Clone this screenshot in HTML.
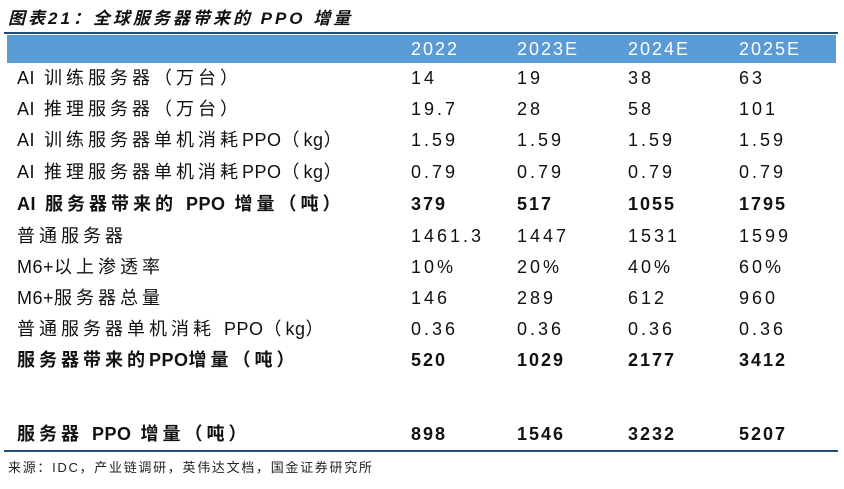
<!DOCTYPE html>
<html><head><meta charset="utf-8"><style>
body{margin:0;width:844px;height:489px;background:#fff;position:relative;font-family:"Liberation Sans","Noto Sans CJK SC",sans-serif;color:#111;overflow:hidden}
.abs{position:absolute}
.title{left:8px;top:4px;font-size:17px;font-weight:bold;font-style:italic;letter-spacing:3px}
.rule{left:4px;width:834px;height:2px;background:#1f4e79}
.hdr{left:7px;top:35px;width:829px;height:28px;background:#5b9bd5}
.row{left:0;width:844px;height:31px;font-size:18px;line-height:31px}
.row span{position:absolute;white-space:nowrap;letter-spacing:3px}
.row .l{left:17px;letter-spacing:4px}
.row .l .lat{position:static;letter-spacing:0.5px}
.b span{letter-spacing:2px}
.b{font-weight:bold}
.row .h{color:#fff;font-size:18px;line-height:28px;letter-spacing:2px}
.src{left:8px;top:457px;font-size:13px;color:#222;letter-spacing:1.7px}
</style></head><body>
<div class="abs title">图表21：全球服务器带来的 PPO 增量</div>
<div class="abs rule" style="top:32px"></div>
<div class="abs hdr"></div>
<div id="rows"></div>
<div class="abs rule" style="top:450px"></div>
<div class="abs src">来源：IDC，产业链调研，英伟达文档，国金证券研究所</div>
<script>
const years=["2022","2023E","2024E","2025E"];
const labels=["AI 训练服务器（万台）","AI 推理服务器（万台）","AI 训练服务器单机消耗PPO（kg）","AI 推理服务器单机消耗PPO（kg）","AI 服务器带来的 PPO 增量（吨）","普通服务器","M6+以上渗透率","M6+服务器总量","普通服务器单机消耗 PPO（kg）","服务器带来的PPO增量（吨）","服务器 PPO 增量（吨）"];
const values=[["14","19","38","63"],["19.7","28","58","101"],["1.59","1.59","1.59","1.59"],["0.79","0.79","0.79","0.79"],["379","517","1055","1795"],["1461.3","1447","1531","1599"],["10%","20%","40%","60%"],["146","289","612","960"],["0.36","0.36","0.36","0.36"],["520","1029","2177","3412"],["898","1546","3232","5207"]];
const bold=[4,9,10];
const colX=[411,517,628,739];
const tops=[63,94,125,157,189,221,252,283,314,345,419];
const root=document.getElementById('rows');
const hd=document.createElement('div');hd.className='abs row';hd.style.top='35px';


years.forEach((y,i)=>{const s=document.createElement('span');s.className='h';s.style.left=colX[i]+'px';s.textContent=y;


hd.appendChild(s);});
root.appendChild(hd);
labels.forEach((lab,r)=>{const d=document.createElement('div');d.className='abs row'+(bold.includes(r)?' b':'');d.style.top=tops[r]+'px';


const l=document.createElement('span');l.className='l';
l.innerHTML=lab.replace(/[A-Za-z0-9+]+(?= )?/g,m=>'<span class="lat">'+m+'</span>');


d.appendChild(l);
values[r].forEach((v,i)=>{const s=document.createElement('span');s.style.left=colX[i]+'px';s.textContent=v;


d.appendChild(s);});
root.appendChild(d);});
</script>
</body></html>
